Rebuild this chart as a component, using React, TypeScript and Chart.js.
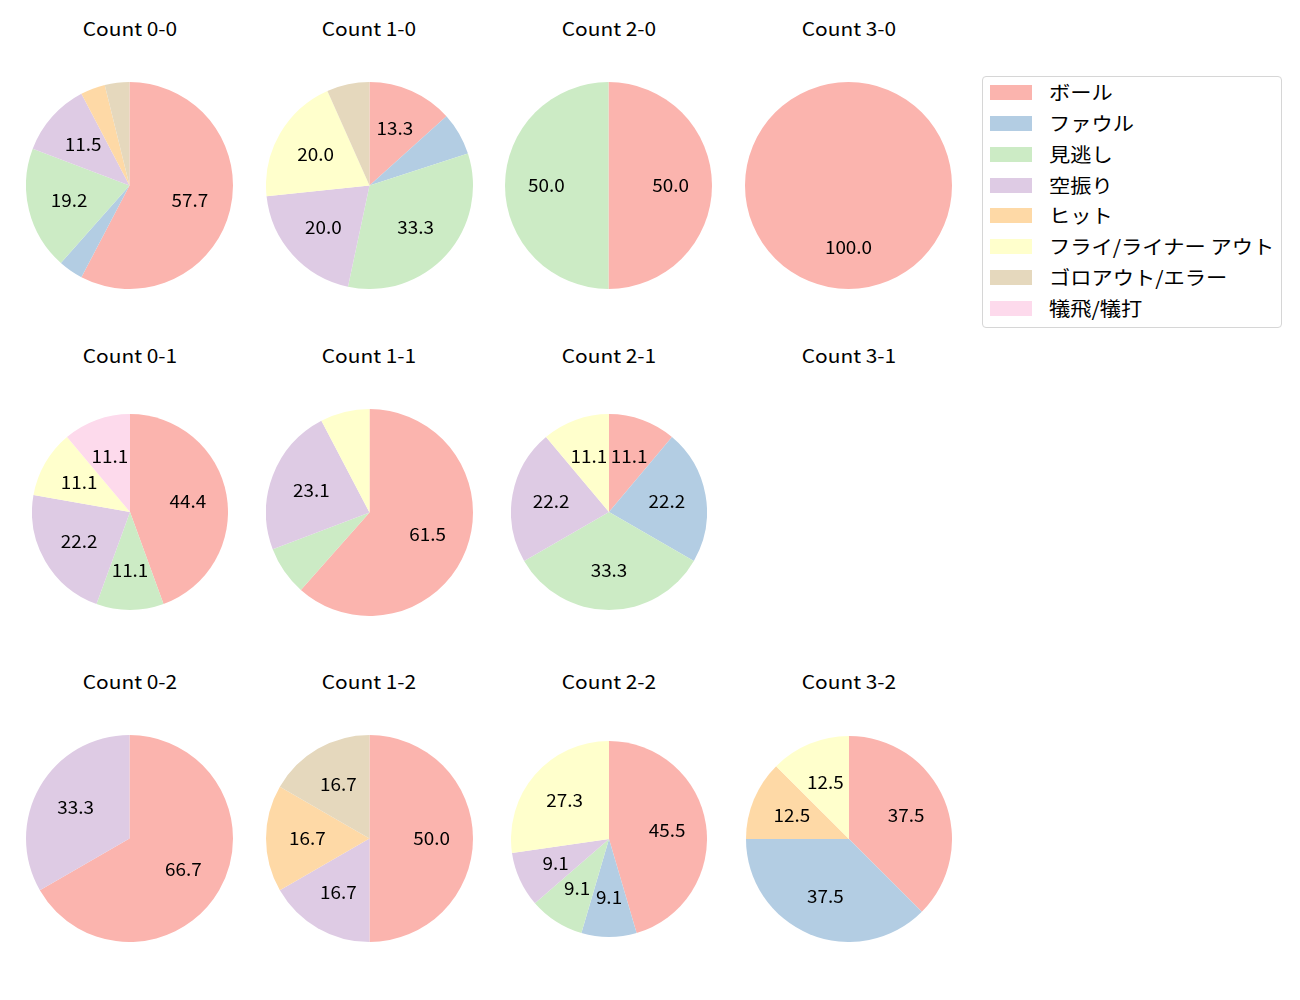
import React, { useEffect, useRef } from "react";
import { Chart, registerables } from "chart.js";

Chart.register(...registerables);

const CATEGORIES = ["ボール", "ファウル", "見逃し", "空振り", "ヒット", "フライ/ライナー アウト", "ゴロアウト/エラー", "犠飛/犠打"];
const COLORS = ["#fbb4ae", "#b3cde3", "#ccebc5", "#decbe4", "#fed9a6", "#ffffcc", "#e5d8bd", "#fddaec"];

// counts per category (same order as CATEGORIES)
const count00 = [15, 1, 5, 3, 1, 0, 1, 0];
const count10 = [2, 1, 5, 3, 0, 3, 1, 0];
const count20 = [1, 0, 1, 0, 0, 0, 0, 0];
const count30 = [1, 0, 0, 0, 0, 0, 0, 0];
const count01 = [4, 0, 1, 2, 0, 1, 0, 1];
const count11 = [8, 0, 1, 3, 0, 1, 0, 0];
const count21 = [1, 2, 3, 2, 0, 1, 0, 0];
const count02 = [2, 0, 0, 1, 0, 0, 0, 0];
const count12 = [3, 0, 0, 1, 1, 0, 1, 0];
const count22 = [5, 1, 1, 1, 0, 3, 0, 0];
const count32 = [3, 3, 0, 0, 1, 1, 0, 0];

const TITLES = [
  ["Count 0-0", "Count 1-0", "Count 2-0", "Count 3-0"],
  ["Count 0-1", "Count 1-1", "Count 2-1", "Count 3-1"],
  ["Count 0-2", "Count 1-2", "Count 2-2", "Count 3-2"],
];
const DATA: (number[] | null)[][] = [
  [count00, count10, count20, count30],
  [count01, count11, count21, null],
  [count02, count12, count22, count32],
];

const COL_X = [129.5, 369, 608.5, 848.5];
const ROW_Y = [185.5, 512, 838.5];
const TITLE_Y = [28.5, 355.5, 681.5];
const RADII = [
  [103.5, 103.5, 103.5, 103.5],
  [98, 103.5, 98, 103.5],
  [103.5, 103.5, 98, 103],
];

const FONT = "'Noto Sans CJK JP', 'Noto Sans', sans-serif";
const LABEL_STRETCH = 1.08;

const pctLabels = {
  id: "pctLabels",
  afterDatasetsDraw(chart: any) {
    const ctx = chart.ctx;
    const ds = chart.data.datasets[0];
    const vals: number[] = ds.data;
    const total = vals.reduce((a, b) => a + b, 0);
    const meta = chart.getDatasetMeta(0);
    meta.data.forEach((arc: any, i: number) => {
      const pct = (vals[i] / total) * 100;
      if (pct < 8) return;
      const p = arc.getProps(["x", "y", "startAngle", "endAngle", "outerRadius"], true);
      const mid = (p.startAngle + p.endAngle) / 2;
      const r = p.outerRadius * 0.6;
      ctx.save();
      ctx.fillStyle = "#000";
      ctx.font = `17.5px ${FONT}`;
      ctx.textAlign = "center";
      ctx.textBaseline = "middle";
      ctx.translate(p.x + Math.cos(mid) * r, p.y + Math.sin(mid) * r);
      ctx.scale(LABEL_STRETCH, 1);
      ctx.fillText(pct.toFixed(1), 0, 0);
      ctx.restore();
    });
  },
};

function Pie({ values, cx, cy, r }: { values: number[]; cx: number; cy: number; r: number }) {
  const ref = useRef<HTMLCanvasElement>(null);
  useEffect(() => {
    const chart = new Chart(ref.current!, {
      type: "pie",
      data: {
        labels: CATEGORIES,
        datasets: [{ data: values, backgroundColor: COLORS, borderWidth: 0, hoverOffset: 0 }],
      },
      options: {
        animation: false,
        responsive: false,
        devicePixelRatio: 1,
        layout: { padding: 0 },
        plugins: { legend: { display: false }, tooltip: { enabled: false }, title: { display: false } },
      },
      plugins: [pctLabels],
    });
    return () => chart.destroy();
  }, [values]);
  const size = Math.round(r * 2);
  return (
    <canvas
      ref={ref}
      width={size}
      height={size}
      style={{ position: "absolute", left: cx - size / 2, top: cy - size / 2, width: size, height: size }}
    />
  );
}

export default function App() {
  return (
    <div style={{ position: "absolute", left: 0, top: 0, width: 1300, height: 1000, background: "#fff", fontFamily: FONT }}>
      {TITLES.map((row, ri) =>
        row.map((t, ci) => (
          <div
            key={t}
            style={{
              position: "absolute",
              left: COL_X[ci] - 100,
              width: 200,
              top: TITLE_Y[ri] - 13,
              height: 24,
              lineHeight: "24px",
              textAlign: "center",
              fontSize: 18.5,
              color: "#000",
              transform: "scaleX(1.13)",
              transformOrigin: "50% 50%",
            }}
          >
            {t}
          </div>
        ))
      )}
      {DATA.map((row, ri) =>
        row.map((vals, ci) =>
          vals ? <Pie key={`${ri}-${ci}`} values={vals} cx={COL_X[ci]} cy={ROW_Y[ri]} r={RADII[ri][ci]} /> : null
        )
      )}
      <div
        style={{
          position: "absolute",
          left: 982,
          top: 76,
          width: 298,
          height: 250,
          border: "1px solid #d6d6d6",
          borderRadius: 4,
          boxSizing: "content-box",
        }}
      >
        {CATEGORIES.map((c, i) => (
          <div key={c} style={{ position: "absolute", left: 0, top: 8 + i * 30.86, height: 15, width: 298 }}>
            <div style={{ position: "absolute", left: 7, top: 0, width: 42, height: 15, background: COLORS[i] }} />
            <div
              style={{
                position: "absolute",
                left: 66,
                top: -5,
                lineHeight: "24px",
                fontSize: 19.5,
                color: "#000",
                whiteSpace: "nowrap",
                transform: "scaleX(1.09)",
                transformOrigin: "0 50%",
              }}
            >
              {c}
            </div>
          </div>
        ))}
      </div>
    </div>
  );
}
